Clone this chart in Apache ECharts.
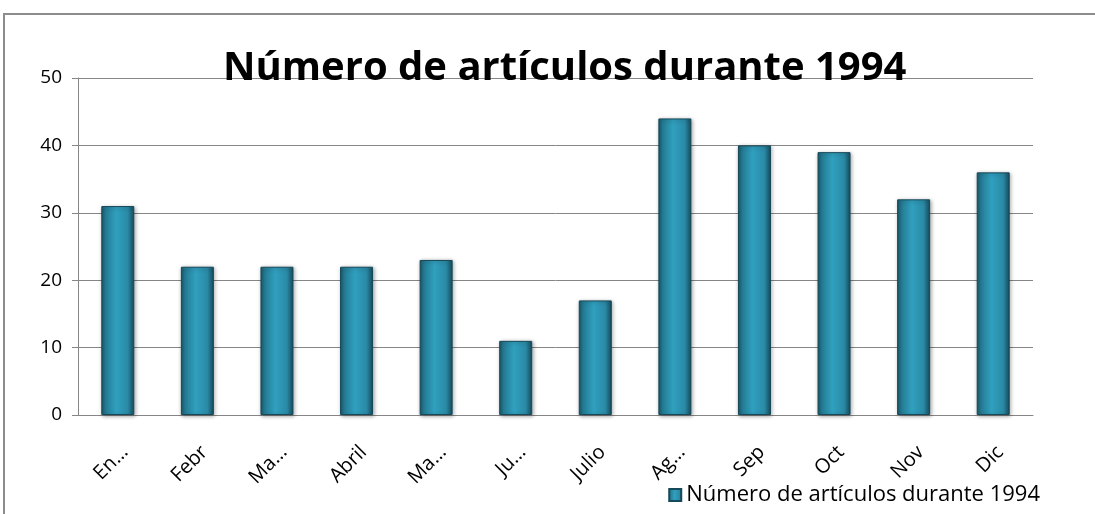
<!DOCTYPE html>
<html>
<head>
<meta charset="utf-8">
<script src="https://cdn.jsdelivr.net/npm/echarts@6/dist/echarts.min.js"></script>
<style>
  html, body { margin: 0; padding: 0; background: #fff; }
  #main { width: 1095px; height: 514px; }
</style>
</head>
<body>
<div id="main"></div>
<script>
// categorias tal como aparecen (recortadas) en el eje
var meses = ['En…', 'Febr', 'Ma…', 'Abril', 'Ma…', 'Ju…', 'Julio', 'Ag…', 'Sep', 'Oct', 'Nov', 'Dic'];
var articulos = [31, 22, 22, 22, 23, 11, 17, 44, 40, 39, 32, 36];
var nombreSerie = 'Número de artículos durante 1994';

var myChart = echarts.init(document.getElementById('main'));

var barColor = new echarts.graphic.LinearGradient(0, 0, 1, 0, [
  { offset: 0, color: '#1b5668' },
  { offset: 0.12, color: '#247a92' },
  { offset: 0.45, color: '#30a0bf' },
  { offset: 0.8, color: '#2a8aa6' },
  { offset: 1, color: '#174b5c' }
]);

var option = {
  animation: false,
  title: {
    text: nombreSerie,
    left: 218,
    top: 44,
    textStyle: {
      fontFamily: 'Open Sans',
      fontWeight: 'bold',
      fontSize: 40,
      color: '#000'
    }
  },
  legend: {
    data: [nombreSerie],
    right: 50,
    bottom: 3,
    itemWidth: 12,
    itemHeight: 12,
    itemGap: 6,
    icon: 'rect',
    textStyle: { fontFamily: 'Open Sans', fontSize: 22, color: '#000' }
  },
  grid: { left: 78, right: 62, top: 78, bottom: 99 },
  xAxis: {
    type: 'category',
    data: meses,
    axisLine: { lineStyle: { color: '#868686' } },
    axisTick: { length: 8, lineStyle: { color: '#868686' } },
    axisLabel: {
      rotate: 45,
      interval: 0,
      margin: 27,
      verticalAlign: 'top',
      color: '#000',
      fontFamily: 'Open Sans',
      fontSize: 20
    }
  },
  yAxis: {
    type: 'value',
    min: 0,
    max: 50,
    interval: 10,
    axisLine: { show: true, lineStyle: { color: '#868686' } },
    axisTick: { show: true, length: 6, lineStyle: { color: '#868686' } },
    splitLine: { lineStyle: { color: '#868686' } },
    axisLabel: {
      margin: 16,
      color: '#000',
      fontFamily: 'Open Sans',
      fontSize: 19
    }
  },
  graphic: [{
    type: 'rect',
    shape: { x: 4, y: 14, width: 1200, height: 600 },
    style: { fill: 'none', stroke: '#8c8c8c', lineWidth: 2 },
    silent: true
  }],
  series: [{
    name: nombreSerie,
    type: 'bar',
    barWidth: 33,
    data: articulos,
    itemStyle: {
      color: barColor,
      borderColor: '#16495a',
      borderWidth: 1,
      shadowColor: 'rgba(0,0,0,0.35)',
      shadowBlur: 4,
      shadowOffsetX: 1,
      shadowOffsetY: 1
    }
  }]
};

myChart.setOption(option);
</script>
</body>
</html>
